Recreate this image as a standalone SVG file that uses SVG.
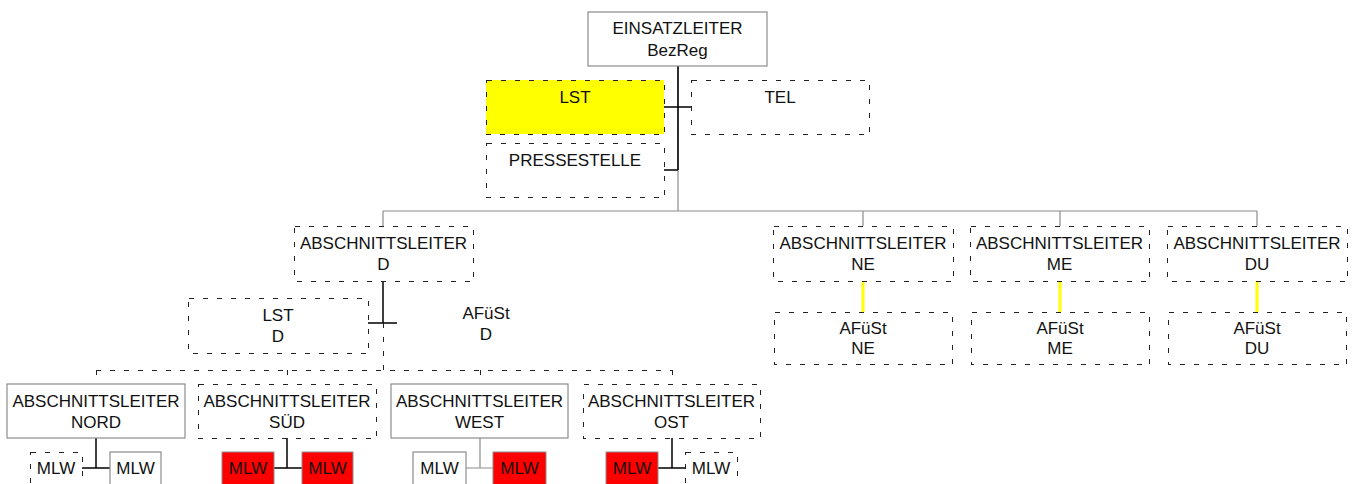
<svg xmlns="http://www.w3.org/2000/svg" width="1359" height="484" viewBox="0 0 1359 484">
<style>
text{font-family:"Liberation Sans",Arial,sans-serif;font-size:17px;fill:#111;text-anchor:middle}
.solid{fill:#fff;stroke:#8c8c8c;stroke-width:1.2}
.dash{fill:none;stroke:#222;stroke-width:1;stroke-dasharray:5 9;shape-rendering:crispEdges}
.red{fill:#ff0000;stroke:#8c8c8c;stroke-width:1}
.yel{fill:#ffff00;stroke:none}
.blk{stroke:#000;stroke-width:1.5;fill:none}
.gry{stroke:#8c8c8c;stroke-width:1.2;fill:none}
.dl{stroke:#222;stroke-width:1;stroke-dasharray:5 9;fill:none;shape-rendering:crispEdges}
.yl{stroke:#ffff00;stroke-width:3;fill:none}
</style>
<rect width="1359" height="484" fill="#fff"/>
<g id="connectors">
<path class="gry" d="M678 66V211M383 211H1257M383 211V226M863 211V226M1060 211V226M1257 211V226"/>
<path class="blk" d="M678 66V170M664 107H692M664 170H678"/>
<path class="blk" d="M383 281V323M368 323H397"/>
<path class="dl" d="M383.5 323V370M96 370.5H672M96.5 370V384M287.5 370V384M480.5 370V384M672.5 370V384"/>
<path class="yl" d="M863 281V312M1060 281V312M1257 281V312"/>
<path class="blk" d="M96 438V468M82 468H110"/>
<path class="blk" d="M287 438V468M274 468H302"/>
<path class="gry" d="M480 438V468M466 468H493"/>
<path class="blk" d="M672 438V468M658 468H685"/>
</g>
<g id="einsatzleiter"><rect class="solid" x="588" y="12" width="179" height="54"/><text x="677.5" y="34">EINSATZLEITER</text><text x="677.5" y="56">BezReg</text></g>
<g id="lst"><rect class="yel" x="486" y="80" width="178" height="54"/><rect class="dash" x="486.5" y="80.5" width="178" height="54"/><text x="575" y="103">LST</text></g>
<g id="tel"><rect class="dash" x="691.5" y="80.5" width="178" height="54"/><text x="780" y="103">TEL</text></g>
<g id="pressestelle"><rect class="dash" x="486.5" y="143.5" width="178" height="54"/><text x="575" y="166">PRESSESTELLE</text></g>
<g id="al-d"><rect class="dash" x="294.5" y="226.5" width="179" height="55"/><text x="383.5" y="249">ABSCHNITTSLEITER</text><text x="383.5" y="270">D</text></g>
<g id="lst-d"><rect class="dash" x="188.5" y="298.5" width="180" height="55"/><text x="278" y="321">LST</text><text x="278" y="342">D</text></g>
<g id="afuest-d"><text x="486" y="319">AFüSt</text><text x="486" y="340">D</text></g>
<g id="al-ne"><rect class="dash" x="773.5" y="226.5" width="180" height="55"/><text x="863" y="249">ABSCHNITTSLEITER</text><text x="863" y="270">NE</text></g>
<g id="al-me"><rect class="dash" x="970.5" y="226.5" width="179" height="55"/><text x="1059.5" y="249">ABSCHNITTSLEITER</text><text x="1059.5" y="270">ME</text></g>
<g id="al-du"><rect class="dash" x="1167.5" y="226.5" width="180" height="55"/><text x="1257" y="249">ABSCHNITTSLEITER</text><text x="1257" y="270">DU</text></g>
<g id="afuest-ne"><rect class="dash" x="774.5" y="312.5" width="178" height="52"/><text x="863" y="334">AFüSt</text><text x="863" y="354">NE</text></g>
<g id="afuest-me"><rect class="dash" x="971.5" y="312.5" width="178" height="52"/><text x="1060" y="334">AFüSt</text><text x="1060" y="354">ME</text></g>
<g id="afuest-du"><rect class="dash" x="1168.5" y="312.5" width="178" height="52"/><text x="1257" y="334">AFüSt</text><text x="1257" y="354">DU</text></g>
<g id="al-nord"><rect class="solid" x="7" y="384" width="178" height="54"/><text x="96" y="407">ABSCHNITTSLEITER</text><text x="96" y="428">NORD</text></g>
<g id="al-sued"><rect class="dash" x="198.5" y="384.5" width="178" height="54"/><text x="287" y="407">ABSCHNITTSLEITER</text><text x="287" y="428">SÜD</text></g>
<g id="al-west"><rect class="solid" x="391" y="384" width="177" height="54"/><text x="479.5" y="407">ABSCHNITTSLEITER</text><text x="479.5" y="428">WEST</text></g>
<g id="al-ost"><rect class="dash" x="583.5" y="384.5" width="177" height="54"/><text x="671.5" y="407">ABSCHNITTSLEITER</text><text x="671.5" y="428">OST</text></g>
<g id="mlw-n1"><rect class="dash" x="30.5" y="452.5" width="52" height="40"/><text x="56" y="474">MLW</text></g>
<g id="mlw-n2"><rect class="solid" x="110" y="452" width="51" height="40"/><text x="135.5" y="474">MLW</text></g>
<g id="mlw-s1"><rect class="red" x="222" y="452" width="52" height="40"/><text x="248" y="474">MLW</text></g>
<g id="mlw-s2"><rect class="red" x="302" y="452" width="51" height="40"/><text x="327.5" y="474">MLW</text></g>
<g id="mlw-w1"><rect class="solid" x="413" y="452" width="53" height="40"/><text x="439.5" y="474">MLW</text></g>
<g id="mlw-w2"><rect class="red" x="493" y="452" width="53" height="40"/><text x="519.5" y="474">MLW</text></g>
<g id="mlw-o1"><rect class="red" x="606" y="452" width="52" height="40"/><text x="632" y="474">MLW</text></g>
<g id="mlw-o2"><rect class="dash" x="685.5" y="452.5" width="52" height="40"/><text x="711" y="474">MLW</text></g>
</svg>
